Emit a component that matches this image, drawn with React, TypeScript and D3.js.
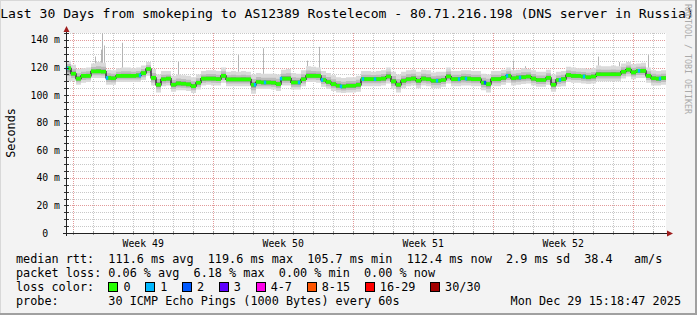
import React from 'react';
import * as d3 from 'd3';

const TITLE = 'Last 30 Days from smokeping to AS12389 Rostelecom - 80.71.216.198 (DNS server in Russia)';
const START = Date.UTC(2025, 10, 29, 15, 18, 47);
const END = Date.UTC(2025, 11, 29, 15, 18, 47);
const BIN_DAYS = 0.25;
const Y_MAX = 145.07;

const MEDIAN = [
  119.5, 115.5, 112, 114, 114, 117.2, 117.2, 117, 112.5, 112.3,
  114, 114, 114, 114, 114.3, 116, 119, 112.5, 107.5, 111.5,
  112, 107.5, 108.5, 108.3, 107.8, 106.5, 109, 112, 112, 112,
  111.6, 114, 111.4, 111.4, 111.4, 111.4, 111.4, 107.5, 109.5, 109.2,
  109.2, 109, 108, 112, 112, 109.2, 109.2, 111.5, 114, 114,
  114, 111, 109.5, 108, 106.8, 106.3, 106.8, 106.8, 107.5, 111.6,
  111.6, 111.6, 111.6, 112, 113.5, 110, 107.5, 110.4, 111.5, 112,
  110.4, 112, 111.5, 110.4, 110.4, 111, 113.5, 111.6, 111.6, 112.3,
  112, 111.6, 111.6, 109, 108, 111.6, 111.6, 112.5, 114, 112.3,
  112.8, 113, 113.5, 112, 111, 111, 112.5, 107.5, 111, 111.6,
  114.5, 114, 114, 113.5, 113, 113.5, 115.2, 115.2, 115.2, 115.2,
  115.2, 117, 118.5, 116.5, 117.6, 117.6, 114, 112.3, 112, 112.4,
];

const SMOKE_HI = [
  125, 122, 119, 119.5, 120, 123, 124, 123.5, 118.5, 118,
  119.5, 120, 120, 119.5, 120, 121.5, 124, 119, 115, 117.5,
  117.5, 114, 115, 114.5, 114, 113, 115, 117.5, 118, 118,
  117.5, 120, 117, 117.5, 117, 117.5, 117, 115, 116, 115.5,
  115.5, 115.5, 115, 118.5, 119, 116, 115.5, 118, 121, 120.5,
  120, 117.5, 116, 114.5, 113, 112.5, 113, 113, 114, 117.5,
  117.5, 117, 117.5, 118, 120, 117, 115, 117, 118, 118.5,
  117, 118.5, 118, 116.5, 117, 117, 120, 117.5, 117.5, 118,
  118, 117.5, 117.5, 115.5, 115, 117.5, 117.5, 118.5, 120, 118,
  118.5, 119.5, 119, 118, 117, 117, 118.5, 115, 117, 117.5,
  120.5, 120, 119.5, 119.5, 119, 119.5, 121.5, 121, 121, 121.5,
  121, 123, 124, 122.5, 123, 123.5, 120, 118, 117.5, 118,
];

const SMOKE_LO = [
  110, 110.5, 107.5, 109, 109.5, 112.5, 112.5, 112.5, 107.5, 107.5,
  109.5, 109.5, 109.5, 109.5, 109.5, 111, 114, 107, 102, 106.5,
  107, 102.5, 103.5, 103.5, 103, 101.5, 104, 107, 107.5, 107,
  107, 109, 106.5, 106.5, 106.5, 106.5, 106.5, 101, 104.5, 104.5,
  104.5, 104, 103, 107, 107, 104, 104, 106.5, 109.5, 109.5,
  109, 106, 104.5, 103, 102, 101.5, 102, 102, 102.5, 106.5,
  106.5, 106.5, 106.5, 107, 108.5, 104.5, 102, 105, 106.5, 107,
  105, 107, 106.5, 105, 105, 106, 108.5, 106.5, 106.5, 107,
  107, 106.5, 106.5, 103.5, 102, 106.5, 106.5, 107.5, 109, 107,
  107.5, 108, 108.5, 107, 106, 106, 107.5, 102.5, 106, 106.5,
  109.5, 109, 109, 108.5, 108, 108.5, 110, 110, 110, 110,
  110, 112, 113.5, 111.5, 112.5, 112.5, 109, 107, 107, 107.5,
];

const LOSS_DAYS = [0.05, 2.05, 3.7, 9.45, 9.95, 10.75, 11.65, 12.8, 13.75, 14.85, 15.45, 18.55, 19.65, 20.0, 20.95, 22.05, 22.7, 24.7, 25.9, 28.65, 29.7];
const LOSS_COUNTS = [1, 1, 1, 1, 1, 1, 1, 1, 1, 1, 1, 1, 1, 1, 2, 1, 1, 1, 1, 1, 1];

const SPIKE_DAYS = [1.45, 1.75, 1.8, 1.9, 2.8, 5.6, 8.6, 9.85, 12.05, 12.65, 22.35, 22.95, 26.6, 27.65, 29.1];
const SPIKE_TOPS = [128, 133, 145, 136, 138, 124, 129, 134, 125, 135, 125, 121, 128, 124, 129];

const LOSS_LABELS = ['0', '1', '2', '3', '4-7', '8-15', '16-29', '30/30'];
const LOSS_COLORS = ['#26ff00', '#00b8ff', '#0059ff', '#5e00ff', '#ff00ea', '#ff5500', '#ff0000', '#a10000'];

const STATS_RTT = 'median rtt:  111.6 ms avg  119.6 ms max  105.7 ms min  112.4 ms now  2.9 ms sd  38.4   am/s';
const STATS_LOSS = 'packet loss: 0.06 % avg  6.18 % max  0.00 % min  0.00 % now';
const LOSS_TITLE = 'loss color:';
const PROBE = 'probe:       30 ICMP Echo Pings (1000 Bytes) every 60s';
const STAMP = 'Mon Dec 29 15:18:47 2025';
const Y_LABEL = 'Seconds';
const CREDIT = 'RRDTOOL / TOBI OETIKER';

const W = 697, H = 315;
const PL = 66, PR = 666, PT = 33, PB = 233;
const MONO = 'DejaVu Sans Mono, monospace';
const CW = 7.11;

function lossIndex(c: number) {
  if (c <= 3) return c;
  if (c <= 7) return 4;
  if (c <= 15) return 5;
  if (c <= 29) return 6;
  return 7;
}

export default function App() {
  const x = d3.scaleUtc().domain([new Date(START), new Date(END)]).range([PL, PR]);
  const y = d3.scaleLinear().domain([0, Y_MAX]).range([PB, PT]);
  const dayDate = (d: number) => new Date(START + d * 86400000);

  const idx = d3.range(MEDIAN.length + 1);
  const val = (arr: number[], i: number) => arr[Math.min(i, arr.length - 1)];
  const bx = (i: number) => x(dayDate(i * BIN_DAYS));

  const areaGen = (lo: (i: number) => number, hi: (i: number) => number) =>
    d3.area<number>().x(bx).y0(lo).y1(hi).curve(d3.curveStepAfter)(idx) || '';

  const outer = areaGen((i) => y(val(SMOKE_LO, i)), (i) => y(val(SMOKE_HI, i)));
  const mid = areaGen(
    (i) => y(val(MEDIAN, i) - (val(MEDIAN, i) - val(SMOKE_LO, i)) * 0.6),
    (i) => y(val(MEDIAN, i) + (val(SMOKE_HI, i) - val(MEDIAN, i)) * 0.55)
  );
  const inner = areaGen(
    (i) => y(val(MEDIAN, i) - (val(MEDIAN, i) - val(SMOKE_LO, i)) * 0.3),
    (i) => y(val(MEDIAN, i) + (val(SMOKE_HI, i) - val(MEDIAN, i)) * 0.25)
  );
  const band = areaGen((i) => y(val(MEDIAN, i)) + 1.8, (i) => y(val(MEDIAN, i)) - 1.8);
  const medLine = d3.line<number>().x(bx).y((i) => y(val(MEDIAN, i))).curve(d3.curveStepAfter)(idx) || '';

  const days = d3.utcDay.range(new Date(START), new Date(END));
  const weeks = d3.utcSunday.range(new Date(START), new Date(END));
  const weekLabels = d3.utcSunday
    .range(new Date(START - 7 * 86400000), new Date(END))
    .map((d) => new Date(d.getTime() + 3.5 * 86400000))
    .filter((d) => d.getTime() > START && d.getTime() < END);

  const minorY = d3.range(5, Y_MAX, 5).filter((v) => v % 20 !== 0);
  const majorY = d3.range(20, Y_MAX, 20);
  const tickY = d3.range(0, Y_MAX, 5);
  const labelY = d3.range(0, Y_MAX, 20);

  let cursor = 16 + 13 * CW;
  const legendItems = LOSS_LABELS.map((l, i) => {
    const item = { l, c: LOSS_COLORS[i], bx: cursor };
    cursor += 29.7 + l.length * CW;
    return item;
  });

  const textRows = [263, 277, 291, 305];
  const pre = { xmlSpace: 'preserve' } as any;

  return (
    <div style={{ position: 'absolute', left: 0, top: 0 }}>
      <svg width={W} height={H} style={{ display: 'block' }}>
        <rect x={0} y={0} width={W} height={H} fill="#f3f3f3" />
        <rect x={0} y={0} width={W} height={1} fill="#d8d8d8" />
        <rect x={0} y={0} width={1} height={H} fill="#d8d8d8" />
        <rect x={0} y={H - 2} width={W} height={2} fill="#a0a0a0" />
        <rect x={W - 2} y={0} width={2} height={H} fill="#a0a0a0" />

        <text x={347} y={18} textAnchor="middle" fontFamily={MONO} fontSize={13.1} fill="#000">{TITLE}</text>

        <rect x={PL} y={PT} width={PR - PL} height={PB - PT} fill="#fff" />

        <g shapeRendering="crispEdges">
          {minorY.map((v) => (
            <line key={'my' + v} x1={PL} x2={PR} y1={Math.round(y(v)) + 0.5} y2={Math.round(y(v)) + 0.5} stroke="#c8c8c8" strokeDasharray="1 1" />
          ))}
          {days.map((d) => (
            <line key={'dx' + d.getTime()} x1={Math.round(x(d)) + 0.5} x2={Math.round(x(d)) + 0.5} y1={PT} y2={PB} stroke="#c8c8c8" strokeDasharray="1 1" />
          ))}
          {majorY.map((v) => (
            <line key={'My' + v} x1={PL} x2={PR} y1={Math.round(y(v)) + 0.5} y2={Math.round(y(v)) + 0.5} stroke="#e29a9a" strokeDasharray="1 1" />
          ))}
          {weeks.map((d) => (
            <line key={'wx' + d.getTime()} x1={Math.round(x(d)) + 0.5} x2={Math.round(x(d)) + 0.5} y1={PT} y2={PB} stroke="#e29a9a" strokeDasharray="1 1" />
          ))}
        </g>

        <path d={outer} fill="#dadada" />
        {SPIKE_DAYS.map((d, i) => {
          const bi = Math.min(MEDIAN.length - 1, Math.floor(d / BIN_DAYS));
          return (
            <line key={'sp' + i} x1={Math.round(x(dayDate(d))) + 0.5} x2={Math.round(x(dayDate(d))) + 0.5}
              y1={y(SMOKE_HI[bi])} y2={y(SPIKE_TOPS[i])} stroke="#b4b4b4" strokeWidth={1} />
          );
        })}
        <path d={mid} fill="#bcbcbc" />
        <path d={inner} fill="#8c8c8c" />
        <path d={medLine} fill="none" stroke="#111" strokeWidth={1.2} />
        <path d={band} fill={LOSS_COLORS[0]} />
        {LOSS_DAYS.map((d, i) => {
          const bi = Math.min(MEDIAN.length - 1, Math.floor(d / BIN_DAYS));
          const cx = x(dayDate(d));
          return (
            <rect key={'ls' + i} x={cx - 1.2} width={2.4} y={y(MEDIAN[bi]) - 1.8} height={3.6}
              fill={LOSS_COLORS[lossIndex(LOSS_COUNTS[i])]} />
          );
        })}

        <g shapeRendering="crispEdges">
          {tickY.map((v) => (
            <line key={'ty' + v} x1={64} x2={69} y1={Math.round(y(v)) + 0.5} y2={Math.round(y(v)) + 0.5} stroke="#333" />
          ))}
          {days.map((d) => (
            <line key={'tx' + d.getTime()} x1={Math.round(x(d)) + 0.5} x2={Math.round(x(d)) + 0.5} y1={231} y2={235} stroke="#999" />
          ))}
          <line x1={PL + 0.5} x2={PL + 0.5} y1={PB + 3} y2={PT - 2} stroke="#222" />
          <line x1={PL - 3} x2={PR + 3} y1={PB + 0.5} y2={PB + 0.5} stroke="#222" />
        </g>
        <path d={`M${PL + 0.5},${PT - 7} L${PL - 2.5},${PT - 1} L${PL + 3.5},${PT - 1} Z`} fill="#9e1d1d" />
        <path d={`M${PR + 7},${PB + 0.5} L${PR + 1},${PB - 2.5} L${PR + 1},${PB + 3.5} Z`} fill="#9e1d1d" />

        {labelY.map((v) => (
          <text key={'ly' + v} {...pre} x={60} y={y(v) + 3.5} textAnchor="end" fontFamily={MONO} fontSize={9.8} fill="#000">
            {v === 0 ? '0  ' : `${v} m`}
          </text>
        ))}
        {weekLabels.map((d) => (
          <text key={'wl' + d.getTime()} x={x(d)} y={246.5} textAnchor="middle" fontFamily={MONO} fontSize={9.8} fill="#000">
            {'Week ' + d3.utcFormat('%V')(d)}
          </text>
        ))}

        <text transform="translate(15,133) rotate(-90)" textAnchor="middle" fontFamily={MONO} fontSize={11.8} fill="#000">{Y_LABEL}</text>
        <text transform="translate(685,4) rotate(90)" fontFamily={MONO} fontSize={8.3} fill="#aaaaaa">{CREDIT}</text>

        <g fontFamily={MONO} fontSize={11.8} fill="#000">
          <text {...pre} x={16} y={textRows[0]}>{STATS_RTT}</text>
          <text {...pre} x={16} y={textRows[1]}>{STATS_LOSS}</text>
          <text {...pre} x={16} y={textRows[2]}>{LOSS_TITLE}</text>
          {legendItems.map((it) => (
            <g key={'lg' + it.l}>
              <rect x={Math.round(it.bx) + 0.5} y={282.5} width={9} height={9} fill={it.c} stroke="#000" />
              <text x={it.bx + 15} y={textRows[2]}>{it.l}</text>
            </g>
          ))}
          <text {...pre} x={16} y={textRows[3]}>{PROBE}</text>
          <text x={681} y={textRows[3]} textAnchor="end">{STAMP}</text>
        </g>
      </svg>
    </div>
  );
}
